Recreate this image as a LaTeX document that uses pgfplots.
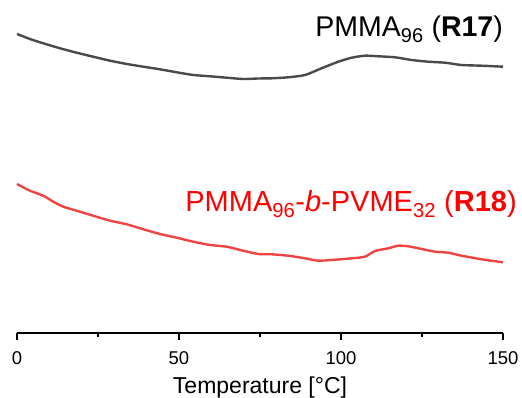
\documentclass[border=0pt]{standalone}
\usepackage{pgfplots}
\pgfplotsset{compat=1.18}
\usepackage{fontspec}
\setmainfont{Liberation Sans}

\definecolor{traceGray}{HTML}{4A4A4A}
\definecolor{traceRed}{HTML}{EE4444}

% DSC heating traces (heat flow, arbitrary offset units)
\pgfplotstableread{
T    hf
0    299
4.0  294
8.1  289.7
13.3 284.7
18.4 280.3
23.5 276.3
28.7 272.3
33.9 269
39.0 266.3
44.1 263.7
49.3 260.7
54.4 258
59.6 256.7
64.7 255.3
69.8 254
74.4 254.5
78.6 254.7
83.7 255.7
88.9 258
94.0 264.7
99.2 271.3
103.3 275.3
107.4 277.3
111.5 276.7
116.7 275.7
121.8 273
126.9 271.3
132.1 270.3
137.2 268
143.4 267.3
150  266.3
}\pmma

\pgfplotstableread{
T    hf
0    149
4.0  142.3
8.1  137.3
11.2 131.3
14.3 126.3
18.4 122.3
23.5 117.3
28.7 112.3
33.9 108.7
39.0 103.7
44.1 99
49.3 95.3
54.4 91.3
59.6 88
64.7 86.3
69.8 82.3
74.5 79
78.6 78.7
83.7 77.3
88.9 74.7
93.0 72.3
98.2 73.3
103.3 74.7
107.4 76.3
110.5 82
114.6 84.7
117.7 87.3
120.8 86.7
124.9 84
129.0 81.3
133.1 80.3
137.2 77.3
143.4 73.7
150  70.7
}\blockcop

\begin{document}
\begin{tikzpicture}
\path[use as bounding box] (0,0) rectangle (522bp,398bp);
\begin{axis}[
  at={(17bp,65bp)}, anchor=south west,
  width=486bp, height=333bp, scale only axis,
  xmin=0, xmax=150, ymin=0, ymax=333,
  axis x line=bottom, axis y line=none,
  x axis line style={-, line width=1.3bp},
  every tick/.style={black, line width=1.3bp},
  tick align=outside,
  xtick={0,50,100,150},
  minor xtick={25,75,125},
  major tick length=7bp, minor tick length=4bp,
  /pgf/number format/assume math mode=true,
  ticklabel style={font=\fontsize{18.5bp}{20bp}\selectfont},
  xticklabel style={anchor=base, yshift=-24bp},
  xlabel={Temperature [°C]},
  xlabel style={font=\fontsize{23bp}{26bp}\selectfont, anchor=base,
    at={(axis description cs:0.5,-0.183)}},
  clip=false,
]
\addplot[traceGray, line width=2.4bp, smooth, tension=0.4] table[x=T, y=hf] {\pmma};
\addplot[traceRed, line width=2.4bp, smooth, tension=0.4] table[x=T, y=hf] {\blockcop};
\node[anchor=base east, inner sep=0pt, font=\fontsize{28.5bp}{32bp}\selectfont]
  at (axis cs:150,296) {PMMA\textsubscript{96} (\textbf{R17})};
\node[anchor=base east, inner sep=0pt, text=red, font=\fontsize{29bp}{32bp}\selectfont]
  at (axis cs:154.3,121) {PMMA\textsubscript{96}-\textit{b}-PVME\textsubscript{32} (\textbf{R18})};
\end{axis}
\end{tikzpicture}
\end{document}
